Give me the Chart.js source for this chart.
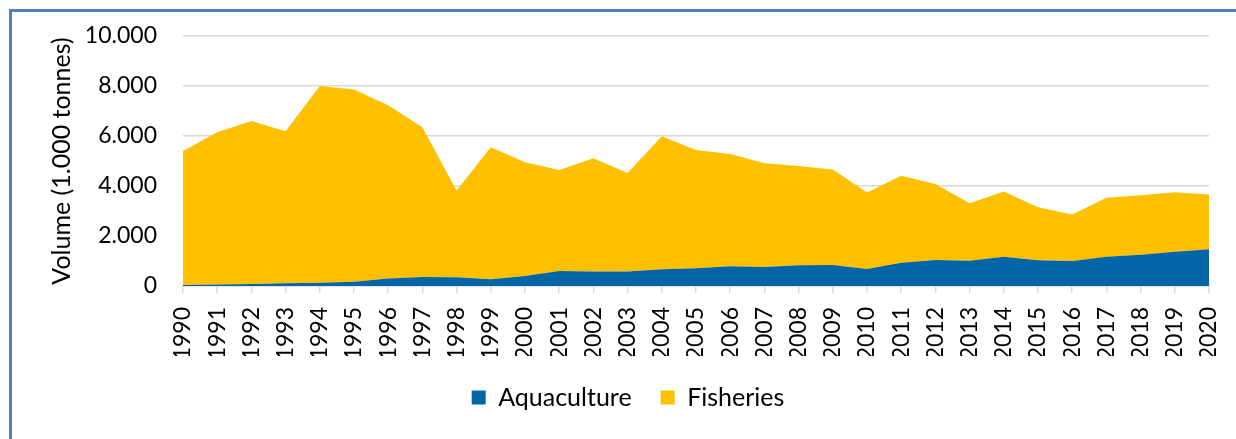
<!DOCTYPE html>
<html>
<head>
<meta charset="utf-8">
<script src="https://cdn.jsdelivr.net/npm/chart.js@4/dist/chart.umd.min.js"></script>
<style>
  html, body { margin: 0; padding: 0; background: #fff; overflow: hidden; }
  #wrap { position: relative; width: 1236px; height: 439px; }
  #frame {
    position: absolute; left: 9px; top: 9px; width: 1400px; height: 600px;
    border-left: 3px solid #4F81BD; border-top: 3px solid #4F81BD;
    box-sizing: border-box; pointer-events: none;
  }
  canvas { position: absolute; left: 0; top: 0; }
</style>
</head>
<body>
<div id="wrap">
  <canvas id="areaChart" width="1236" height="439"></canvas>
  <div id="frame"></div>
</div>
<script>
// Roky
const years = ['1990','1991','1992','1993','1994','1995','1996','1997','1998','1999',
  '2000','2001','2002','2003','2004','2005','2006','2007','2008','2009',
  '2010','2011','2012','2013','2014','2015','2016','2017','2018','2019','2020'];

// Objem v 1.000 t
const aquaculture = [40, 60, 80, 110, 130, 170, 300, 360, 350, 270,
  400, 600, 580, 580, 670, 710, 790, 760, 830, 840,
  680, 930, 1040, 1010, 1170, 1030, 1000, 1170, 1250, 1370, 1470];

const fisheries = [5360, 6090, 6520, 6080, 7870, 7690, 6930, 5990, 3470, 5280,
  4550, 4040, 4530, 3940, 5320, 4730, 4490, 4150, 3970, 3820,
  3060, 3480, 3040, 2300, 2610, 2120, 1860, 2360, 2380, 2380, 2190];

const yTicks = [0, 2000, 4000, 6000, 8000, 10000];

const FONT = 'Lato, "Open Sans", sans-serif';
const GRID = '#d9d9d9';

function fmt(v) {
  return String(v).replace(/\B(?=(\d{3})+(?!\d))/g, '.');
}

const ctx = document.getElementById('areaChart').getContext('2d');

new Chart(ctx, {
  type: 'line',
  data: {
    labels: years,
    datasets: [
      {
        label: 'Aquaculture',
        data: aquaculture,
        backgroundColor: '#0365A6',
        borderColor: '#0365A6',
        borderWidth: 0,
        pointRadius: 0,
        fill: 'origin',
        tension: 0
      },
      {
        label: 'Fisheries',
        data: fisheries,
        backgroundColor: '#FFC000',
        borderColor: '#FFC000',
        borderWidth: 0,
        pointRadius: 0,
        fill: '-1',
        tension: 0
      }
    ]
  },
  options: {
    responsive: false,
    animation: false,
    layout: { padding: { left: 47, right: 27, top: 36, bottom: 19 } },
    scales: {
      x: {
        offset: false,
        grid: { drawOnChartArea: false, drawTicks: true, tickLength: 7, color: GRID, lineWidth: 1.5 },
        border: { display: true, color: GRID, width: 1.5 },
        ticks: {
          color: '#000',
          font: { family: FONT, size: 23 },
          minRotation: 90, maxRotation: 90,
          autoSkip: false,
          padding: 14
        },
        afterFit: (scale) => {
          scale.height = 70;
          scale.paddingLeft = 0;
          scale.paddingRight = 0;
        }
      },
      y: {
        stacked: true,
        min: 0, max: 10000,
        afterBuildTicks: (scale) => { scale.ticks = yTicks.map(v => ({ value: v })); },
        grid: { color: GRID, lineWidth: 1.5, drawTicks: false },
        border: { display: false },
        ticks: {
          color: '#000',
          font: { family: FONT, size: 23 },
          padding: 26,
          callback: (v) => fmt(v)
        },
        title: {
          display: true,
          text: 'Volume (1.000 tonnes)',
          color: '#000',
          font: { family: FONT, size: 25 },
          padding: { top: 0, bottom: 0 }
        },
        afterFit: (scale) => {
          scale.width = 136;
          scale.paddingTop = 0;
          scale.paddingBottom = 0;
        }
      }
    },
    plugins: {
      legend: {
        display: true,
        position: 'bottom',
        labels: {
          color: '#000',
          font: { family: FONT, size: 25 },
          boxWidth: 14, boxHeight: 14,
          padding: 29
        }
      },
      tooltip: { enabled: false }
    }
  }
});
</script>
</body>
</html>
